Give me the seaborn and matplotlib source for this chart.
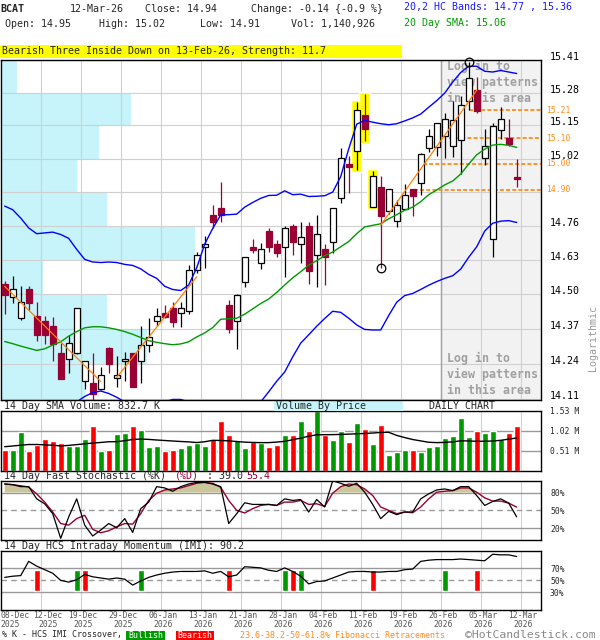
import numpy as np
import pandas as pd
import matplotlib
matplotlib.use("Agg")
import matplotlib.pyplot as plt
import matplotlib.transforms as mtrans
from matplotlib.patches import Rectangle
import seaborn as sns

# ---------------- data ----------------
tick_days = [0, 4, 9, 14, 19, 24, 29, 34, 39, 44, 49, 54, 59, 64]
tick_dm = ["08-Dec", "12-Dec", "19-Dec", "29-Dec", "06-Jan", "13-Jan", "21-Jan", "28-Jan",
           "04-Feb", "11-Feb", "19-Feb", "26-Feb", "05-Mar", "12-Mar"]
tick_year = ["2025", "2025", "2025", "2025", "2026", "2026", "2026", "2026",
             "2026", "2026", "2026", "2026", "2026", "2026"]

opens = [14.539, 14.489, 14.409, 14.519, 14.418, 14.399, 14.381, 14.280, 14.257, 14.280,
         14.178, 14.170, 14.147, 14.300, 14.187, 14.249, 14.280, 14.249, 14.309, 14.399,
         14.430, 14.447, 14.429, 14.438, 14.592, 14.678, 14.801, 14.828, 14.460, 14.398,
         14.548, 14.678, 14.617, 14.740, 14.690, 14.678, 14.759, 14.690, 14.760, 14.648,
         14.670, 14.699, 14.869, 14.998, 15.049, 15.190, 14.833, 14.911, 14.818, 14.777,
         14.826, 14.901, 14.926, 15.060, 15.066, 15.108, 15.069, 15.093, 15.247, 15.289,
         15.021, 14.708, 15.132, 15.099, 14.95]
highs = [14.551, 14.569, 14.531, 14.531, 14.471, 14.418, 14.415, 14.318, 14.349, 14.449,
         14.251, 14.281, 14.228, 14.301, 14.270, 14.284, 14.282, 14.380, 14.411, 14.448,
         14.460, 14.472, 14.471, 14.610, 14.661, 14.721, 14.840, 14.930, 14.478, 14.500,
         14.641, 14.709, 14.694, 14.750, 14.705, 14.760, 14.769, 14.776, 14.776, 14.801,
         14.690, 14.828, 15.060, 15.029, 15.243, 15.276, 14.971, 14.953, 14.903, 14.859,
         14.920, 14.903, 15.041, 15.138, 15.159, 15.201, 15.246, 15.265, 15.402, 15.342,
         15.138, 15.160, 15.221, 15.177, 15.02]
lows = [14.426, 14.468, 14.405, 14.441, 14.324, 14.314, 14.249, 14.186, 14.208, 14.278,
        14.148, 14.108, 14.145, 14.207, 14.155, 14.178, 14.154, 14.169, 14.284, 14.381,
        14.411, 14.379, 14.379, 14.426, 14.579, 14.598, 14.750, 14.776, 14.356, 14.297,
        14.529, 14.657, 14.597, 14.660, 14.640, 14.566, 14.648, 14.618, 14.539, 14.529,
        14.535, 14.655, 14.849, 14.887, 14.975, 15.090, 14.831, 14.598, 14.805, 14.756,
        14.824, 14.799, 14.878, 15.047, 15.030, 15.021, 15.027, 14.960, 15.210, 15.199,
        14.994, 14.640, 15.095, 15.069, 14.91]
closes = [14.497, 14.519, 14.470, 14.468, 14.348, 14.348, 14.314, 14.186, 14.317, 14.447,
          14.249, 14.130, 14.198, 14.239, 14.199, 14.258, 14.156, 14.310, 14.339, 14.418,
          14.416, 14.397, 14.447, 14.592, 14.648, 14.690, 14.776, 14.800, 14.369, 14.499,
          14.640, 14.668, 14.670, 14.678, 14.657, 14.750, 14.699, 14.718, 14.589, 14.729,
          14.640, 14.827, 15.021, 14.988, 15.210, 15.136, 14.952, 14.799, 14.901, 14.839,
          14.877, 14.876, 15.040, 15.110, 15.158, 15.177, 15.171, 15.230, 15.340, 15.207,
          15.069, 15.148, 15.177, 15.079, 14.94]
volumes_m = [0.528, 0.528, 0.994, 0.510, 0.655, 0.808, 0.757, 0.706, 0.638, 0.621,
             0.808, 1.148, 0.510, 0.528, 0.935, 0.961, 1.148, 1.037, 0.612, 0.638,
             0.510, 0.528, 0.578, 0.663, 0.714, 0.638, 0.808, 1.267, 0.918, 0.782,
             0.587, 0.731, 0.697, 0.604, 0.660, 0.918, 0.918, 1.267, 1.012, 1.530,
             0.901, 0.782, 1.012, 0.731, 1.216, 1.063, 0.680, 1.165, 0.400, 0.477,
             0.528, 0.528, 0.477, 0.604, 0.630, 0.834, 0.885, 1.344, 0.859, 1.012,
             0.961, 1.012, 0.808, 0.961, 1.141]
vol_sma_m = [0.612, 0.630, 0.650, 0.668, 0.668, 0.660, 0.648, 0.632, 0.645, 0.665,
             0.685, 0.705, 0.720, 0.738, 0.740, 0.765, 0.795, 0.808, 0.798, 0.783,
             0.770, 0.757, 0.745, 0.735, 0.718, 0.738, 0.775, 0.770, 0.760, 0.745,
             0.728, 0.720, 0.716, 0.716, 0.730, 0.748, 0.790, 0.830, 0.880, 0.915,
             0.918, 0.920, 0.925, 0.933, 0.940, 0.950, 0.960, 0.977, 0.979, 0.900,
             0.845, 0.795, 0.760, 0.725, 0.716, 0.722, 0.735, 0.762, 0.758, 0.750,
             0.752, 0.757, 0.775, 0.805, 0.833]
upper_band = [14.836, 14.822, 14.790, 14.752, 14.730, 14.733, 14.736, 14.727, 14.712, 14.670,
              14.632, 14.622, 14.620, 14.622, 14.620, 14.613, 14.609, 14.596, 14.575, 14.560,
              14.530, 14.518, 14.514, 14.535, 14.600, 14.690, 14.750, 14.802, 14.803, 14.805,
              14.832, 14.850, 14.866, 14.877, 14.878, 14.895, 14.880, 14.882, 14.873, 14.874,
              14.876, 14.890, 14.950, 15.058, 15.155, 15.170, 15.163, 15.157, 15.153, 15.157,
              15.168, 15.180, 15.195, 15.222, 15.248, 15.278, 15.322, 15.360, 15.385, 15.385,
              15.365, 15.362, 15.368, 15.362, 15.356]
lower_band = [None] * 9 + [14.100, 14.120, 14.134, 14.140, 14.131, 14.117, 14.100] + [None] * 4 + \
             [14.100, 14.109, 14.109, 14.100] + [None] * 8 + \
             [14.100, 14.137, 14.176, 14.210, 14.266, 14.317, 14.348, 14.380, 14.409, 14.436,
              14.432, 14.410, 14.385, 14.368, 14.366, 14.366, 14.420, 14.470, 14.495, 14.503,
              14.518, 14.534, 14.548, 14.560, 14.570, 14.595, 14.640, 14.680, 14.740, 14.770,
              14.778, 14.780, 14.773]
sma20 = [14.323, 14.315, 14.306, 14.298, 14.290, 14.296, 14.310, 14.322, 14.343, 14.360,
         14.374, 14.378, 14.378, 14.374, 14.368, 14.360, 14.350, 14.338, 14.326, 14.320,
         14.315, 14.311, 14.314, 14.322, 14.340, 14.355, 14.375, 14.406, 14.408, 14.410,
         14.425, 14.445, 14.465, 14.482, 14.507, 14.535, 14.562, 14.585, 14.610, 14.627,
         14.646, 14.660, 14.680, 14.700, 14.730, 14.756, 14.762, 14.768, 14.787, 14.803,
         14.820, 14.832, 14.853, 14.880, 14.898, 14.918, 14.933, 14.960, 14.999, 15.035,
         15.057, 15.073, 15.076, 15.072, 15.064]
stoch_k = [94.4, 93.3, 90.0, 90.0, 69.4, 61.0, 44.4, 2.8, 38.9, 69.4,
           25.0, 6.7, 16.7, 27.8, 20.6, 36.1, 12.8, 52.8, 63.9, 90.0,
           87.8, 82.2, 90.0, 94.4, 97.2, 97.2, 94.4, 90.0, 27.8, 44.4,
           62.8, 60.0, 60.0, 60.0, 58.3, 69.4, 66.7, 68.3, 47.2, 68.3,
           55.6, 100.0, 95.6, 90.6, 95.6, 80.6, 60.0, 36.1, 48.3, 42.8,
           47.2, 47.2, 69.4, 77.8, 84.4, 86.1, 83.3, 90.0, 90.0, 75.0,
           58.3, 65.0, 69.4, 62.2, 39.0]
stoch_d = [94.4, 93.3, 91.5, 89.4, 77.8, 63.9, 47.2, 27.8, 25.0, 36.1,
           41.7, 18.0, 12.2, 15.6, 22.2, 27.8, 26.7, 44.4, 66.7, 78.9,
           84.4, 86.1, 87.8, 91.7, 95.6, 97.2, 95.6, 88.9, 66.7, 50.0,
           45.6, 52.8, 58.3, 60.0, 58.3, 63.9, 63.9, 66.7, 60.0, 61.1,
           56.7, 78.9, 90.0, 94.4, 93.3, 86.1, 75.0, 55.6, 50.0, 44.4,
           47.2, 46.0, 55.6, 69.4, 80.6, 82.2, 83.3, 87.8, 87.8, 80.6,
           71.1, 65.6, 65.6, 62.2, 55.4]
imi = [55, 57, 58, 82, 74, 68, 62, 50, 47, 51,
       60, 56, 54, 52, 54, 52, 42, 49, 55, 59,
       62, 64, 65, 65, 65, 66, 62, 65, 56, 59,
       73, 72, 71, 67, 65, 71, 65, 57, 44, 48,
       49, 54, 59, 64, 65, 65, 64, 64, 65, 65,
       68, 69, 82, 84, 85, 85, 85, 86, 85, 84,
       83, 94, 93, 93, 90.2]
cross_days = [4, 9, 10, 17, 28, 35, 36, 37, 46, 55, 59]
cross_type = ["bear", "bull", "bear", "bull", "bear", "bull", "bear", "bull", "bear", "bull", "bear"]

price_ticks = [14.11, 14.24, 14.37, 14.50, 14.63, 14.76, 14.89, 15.02, 15.15, 15.28, 15.41]
price_tick_labels = ["14.11", "14.24", "14.37", "14.50", "14.63", "14.76", "", "15.02", "15.15", "15.28", "15.41"]
vbp_edges = [14.10, 14.24, 14.37, 14.50, 14.63, 14.76, 14.89, 15.02, 15.15, 15.28, 15.41]
vbp_volume_m = [4.2, 7.3, 5.3, 2.1, 9.7, 5.3, 3.8, 4.9, 6.5, 0.83]
fib_levels = [15.21, 15.10, 15.00, 14.90]
fib_start_day = [58.0, 55.5, 52.3, 51.1]
trend_start_day = [0, 14, 47]
trend_start_price = [14.53, 14.190, 14.763]
trend_end_day = [12, 24, 59]
trend_end_price = [14.175, 14.566, 15.289]
pattern_days = [44, 45, 46]
marker_days = [47, 58]
marker_prices = [14.598, 15.402]
vol_ticks = [0.51, 1.02, 1.53]

# ---------------- style ----------------
sns.set_theme(style="white")
plt.rcParams["font.family"] = ["DejaVu Sans Mono", "DejaVu Sans"]
RED_C = "#990033"
BLUE = "#0000FF"
GREEN_L = "#009900"
ORANGE = "#FF8C1A"
CYAN = "#C6F4FA"
GRID = "#D0D0D0"
GREY_L = "#999999"
VOL_G = "#009900"
VOL_R = "#FF0000"

W, H = 600, 640
fig = plt.figure(figsize=(6, 6.4), dpi=100)
fig.patch.set_facecolor("white")


def ftext(px, py, s, **kw):
    kw.setdefault("fontsize", 7.2)
    kw.setdefault("va", "center")
    kw.setdefault("ha", "left")
    return fig.text(px / W, 1 - py / H, s, **kw)


def frect(x0, y0, x1, y1, color):
    fig.add_artist(Rectangle((x0 / W, 1 - y1 / H), (x1 - x0) / W, (y1 - y0) / H,
                             transform=fig.transFigure, facecolor=color, edgecolor="none"))


X0, XW = 0.7, 540.0


def panel(top, bottom):
    return fig.add_axes([X0 / W, 1 - bottom / H, XW / W, (bottom - top) / H])


ax_p = panel(60, 400)
ax_v = panel(410.7, 470.7)
ax_s = panel(480.7, 540)
ax_i = panel(550.7, 610)

n = len(closes)
days = np.arange(n)
XLIM = (-0.5, 67.0)
grid_pos = [d + 0.5 for d in tick_days[1:]]

for ax in (ax_p, ax_v, ax_s, ax_i):
    for s in ax.spines.values():
        s.set_color("black")
        s.set_linewidth(1.0)
    for g in grid_pos:
        ax.axvline(g, color=GRID, lw=0.8, zorder=0.6)
    ax.set_xticks([])

# ---------------- price panel ----------------
ax_p.set_yscale("log")
ax_p.patch.set_visible(False)
ax_p.set_zorder(2)
ax_b = ax_p.twiny()
ax_b.set_zorder(1)
for s in ax_b.spines.values():
    s.set_visible(False)
lo = np.array(vbp_edges[:-1])
hi = np.array(vbp_edges[1:])
ax_b.barh(lo, vbp_volume_m, height=hi - lo, align="edge", color=CYAN, edgecolor="none")
ax_b.set_xticks([])

for t in price_ticks:
    ax_p.axhline(t, color=GRID, lw=0.8, zorder=0.6)
ax_p.axvspan(54.5, XLIM[1], color="#F2F2F2", zorder=0.4, lw=0)
ax_p.axvline(54.5, color="#A0A0A0", lw=1.0, zorder=0.65)

for txt_y in (0.934, 0.0756):
    ax_p.text(0.826, txt_y, "Log in to\nview patterns\nin this area", transform=ax_p.transAxes,
              fontsize=8.4, fontweight="bold", color="#A0A0A0", va="center", ha="left",
              linespacing=1.3, zorder=0.7)

# pattern highlight
for d in pattern_days:
    ax_p.bar(d, highs[d] * 1.0005 - lows[d] * 0.9995, bottom=lows[d] * 0.9995, width=1.33,
             color="#FFFF00", zorder=1.0)

# fib retracements
for lev, sd in zip(fib_levels, fib_start_day):
    ax_p.hlines(lev, sd, XLIM[1], colors=ORANGE, lw=1.3, linestyles=(0, (2.2, 1.2)), zorder=2.5)
    ax_p.text(1.0, lev, f"{lev:.2f}", color=ORANGE, fontsize=5.8, va="center", ha="left",
              transform=mtrans.blended_transform_factory(ax_p.transAxes, ax_p.transData)
              + mtrans.ScaledTranslation(0.05, 0, fig.dpi_scale_trans), clip_on=False)

# candles
op = np.array(opens); cl = np.array(closes)
up = cl >= op
body_lo = np.minimum(op, cl)
body_h = np.abs(cl - op)
wick_cols = ["black" if u else RED_C for u in up]
ax_p.vlines(days, lows, highs, colors=wick_cols, lw=0.9, zorder=3)
ax_p.bar(days, body_h, bottom=body_lo, width=0.75,
         color=["white" if u else RED_C for u in up],
         edgecolor=wick_cols, linewidth=0.9, zorder=4)

# overlays
sns.lineplot(x=days, y=upper_band, ax=ax_p, color=BLUE, lw=1.0, estimator=None, zorder=5)
lb = pd.DataFrame({"day": days, "v": pd.array(lower_band, dtype="Float64")})
lb["seg"] = lb["v"].isna().cumsum()
lb = lb.dropna().astype({"v": float})
sns.lineplot(data=lb, x="day", y="v", units="seg", estimator=None, ax=ax_p, color=BLUE, lw=1.0, zorder=5)
sns.lineplot(x=days, y=sma20, ax=ax_p, color=GREEN_L, lw=1.0, estimator=None, zorder=5)
for sd, sp, ed, ep in zip(trend_start_day, trend_start_price, trend_end_day, trend_end_price):
    ax_p.plot([sd, ed], [sp, ep], color="#FF7F00", lw=0.9, zorder=5.5)
ax_p.plot(marker_days, marker_prices, ls="none", marker="o", ms=6.2, mfc="none",
          mec="black", mew=0.9, zorder=6, clip_on=False)

ax_p.set_xlim(XLIM)
ax_b.set_xlim(0, 27.0)
ax_p.set_ylim(14.107, 15.41)
ax_p.set_yticks(price_ticks, labels=price_tick_labels)
ax_p.set_yticks([], minor=True)
ax_p.yaxis.tick_right()
ax_p.tick_params(axis="y", which="both", length=0, pad=6.2, labelsize=7.2, labelcolor="black")
for tk in ax_p.yaxis.get_major_ticks():
    tk.label2.set_verticalalignment("baseline")
ax_p.set_ylabel("")
ax_p.set_xlabel("")

# ---------------- volume panel ----------------
ax_v.bar(days, volumes_m, width=0.8, color=[VOL_G if u else VOL_R for u in up], zorder=2)
sns.lineplot(x=days, y=vol_sma_m, ax=ax_v, color="black", lw=1.0, estimator=None, zorder=3)
for t in vol_ticks[:2]:
    ax_v.axhline(t, color=GREY_L, lw=1.0, zorder=1)
ax_v.set_xlim(XLIM)
ax_v.set_ylim(0, 1.53)
ax_v.yaxis.tick_right()
ax_v.set_yticks(vol_ticks, labels=[f"{t:.2f} M" for t in vol_ticks])
ax_v.tick_params(axis="y", length=0, pad=6.7, labelsize=5.8)
ax_v.set_ylabel(""); ax_v.set_xlabel("")

# ---------------- stochastic panel ----------------
sk = np.array(stoch_k); sd_ = np.array(stoch_d)
ax_s.fill_between(days, 80, sd_, where=sd_ > 80, interpolate=True, color="#CBC79B", lw=0, zorder=1)
ax_s.axhline(80, color=GREY_L, lw=1.0, zorder=0.8)
ax_s.axhline(20, color=GREY_L, lw=1.0, zorder=0.8)
ax_s.axhline(50, color=GREY_L, lw=1.0, ls=(0, (4, 3)), zorder=0.8)
sns.lineplot(x=days, y=stoch_d, ax=ax_s, color=RED_C, lw=1.0, estimator=None, zorder=3)
sns.lineplot(x=days, y=stoch_k, ax=ax_s, color="black", lw=0.9, estimator=None, zorder=4)
ax_s.set_xlim(XLIM)
ax_s.set_ylim(0, 100)
ax_s.yaxis.tick_right()
ax_s.set_yticks([20, 50, 80], labels=["20%", "50%", "80%"])
ax_s.tick_params(axis="y", length=0, pad=6.7, labelsize=5.8)
ax_s.set_ylabel(""); ax_s.set_xlabel("")

# ---------------- IMI panel ----------------
ax_i.axhline(70, color=GREY_L, lw=1.0, zorder=0.8)
ax_i.axhline(30, color=GREY_L, lw=1.0, zorder=0.8)
ax_i.axhline(50, color=GREY_L, lw=1.0, ls=(0, (4, 3)), zorder=0.8)
ax_i.bar(cross_days, 35, bottom=32.5, width=0.8,
         color=[VOL_G if c == "bull" else VOL_R for c in cross_type], zorder=2)
sns.lineplot(x=days, y=imi, ax=ax_i, color="black", lw=0.9, estimator=None, zorder=3)
ax_i.set_xlim(XLIM)
ax_i.set_ylim(0, 100)
ax_i.yaxis.tick_right()
ax_i.set_yticks([30, 50, 70], labels=["30%", "50%", "70%"])
ax_i.tick_params(axis="y", length=0, pad=6.7, labelsize=5.8)
ax_i.set_ylabel(""); ax_i.set_xlabel("")

date_tr = mtrans.blended_transform_factory(ax_i.transData, fig.transFigure)
for j, (d, dm, yr) in enumerate(zip(tick_days, tick_dm, tick_year)):
    if j == 0:
        xx, ha = XLIM[0], "left"
    elif j == 1:
        xx, ha = d + 1.4, "center"
    else:
        xx, ha = d + 0.75, "center"
    for txt, py in ((dm, 616), (yr, 624.5)):
        ax_i.text(xx, 1 - py / H, txt, transform=date_tr, ha=ha, va="center", fontsize=5.8,
                  color="#555555", clip_on=False)

# ---------------- texts ----------------
ftext(0, 9, "BCAT", fontweight="bold")
ftext(70, 9, "12-Mar-26")
ftext(145, 9, "Close: 14.94")
ftext(251, 9, "Change: -0.14 {-0.9 %}")
ftext(404, 7, "20,2 HC Bands: 14.77 , 15.36", color="#1A1AFF")
ftext(4.6, 24, "Open: 14.95")
ftext(99, 24, "High: 15.02")
ftext(200, 24, "Low: 14.91")
ftext(291, 24, "Vol: 1,140,926")
ftext(404, 23, "20 Day SMA: 15.06", color=GREEN_L)
frect(0, 45.5, 402, 57.5, "#FFFF00")
ftext(2, 51.5, "Bearish Three Inside Down on 13-Feb-26, Strength: 11.7")
ftext(593, 338, "Logarithmic", rotation=90, color="#999999", ha="center")

ftext(4, 406, "14 Day SMA Volume: 832.7 K")
frect(274, 400.5, 402.7, 410.7, CYAN)
ftext(276, 406, "Volume By Price")
ftext(462, 406, "DAILY CHART", ha="center")

ftext(4, 476, "14 Day Fast Stochastic (%K)")
ftext(175, 476, "(%D)", color=RED_C)
ftext(206.7, 476, ": 39.0")
ftext(246.7, 476, "55.4", color=RED_C)
ftext(4, 546, "14 Day HCS Intraday Momentum (IMI): 90.2")

ftext(2, 635, "% K - HCS IMI Crossover,", fontsize=6)
frect(126, 630.5, 165, 639.5, "#009900")
ftext(145.5, 635, "Bullish", fontsize=6, color="white", ha="center")
frect(176, 630.5, 214, 639.5, "#FF0000")
ftext(195, 635, "Bearish", fontsize=6, color="white", ha="center")
ftext(240, 635, "23.6-38.2-50-61.8% Fibonacci Retracements", fontsize=6, color=ORANGE)
ftext(465, 635.5, "\u00a9HotCandlestick.com", fontsize=8.2, color="#888888")

fig.savefig("out.png", dpi=100)
